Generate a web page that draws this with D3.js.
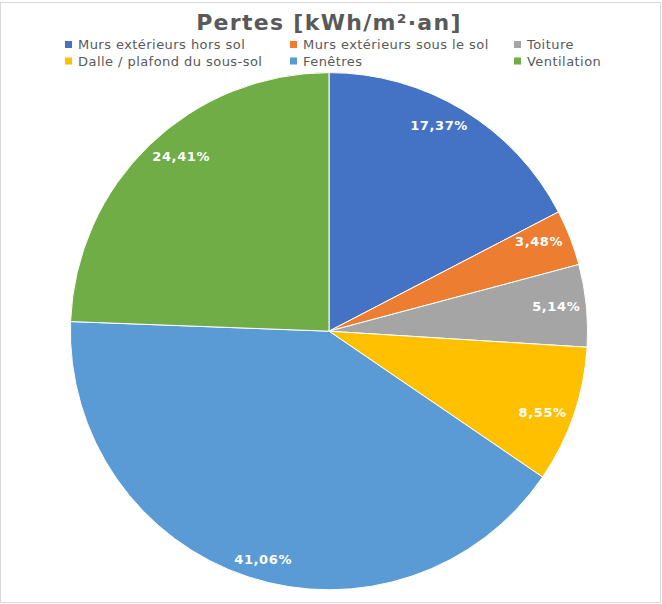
<!DOCTYPE html>
<html><head><meta charset="utf-8">
<script src="https://cdn.jsdelivr.net/npm/d3@7"></script>
<style>html,body{margin:0;padding:0;background:#fff;}svg{display:block;font-family:"DejaVu Sans",sans-serif;}</style>
</head><body>
<svg id="chart" width="662" height="604"></svg>
<script>
const title = "Pertes [kWh/m²·an]";
const categories = ["Murs extérieurs hors sol","Murs extérieurs sous le sol","Toiture","Dalle / plafond du sous-sol","Fenêtres","Ventilation"];
const values = [17.37, 3.48, 5.14, 8.55, 41.06, 24.41];
const colors = ["#4472C4","#ED7D31","#A5A5A5","#FFC000","#5B9BD5","#70AD47"];

const svg = d3.select("#chart");
svg.append("rect").attr("x",0.5).attr("y",2.5).attr("width",660).attr("height",600)
  .attr("fill","#fff").attr("stroke","#d9d9d9").attr("stroke-width",1);

svg.append("text").attr("x",329).attr("y",30).attr("text-anchor","middle")
  .attr("font-size",22).attr("font-weight","bold").attr("letter-spacing",1.3)
  .attr("fill","#595959").text(title);

// legend
const legCols = [65, 290, 514];
const legRows = [49, 65.5];
const leg = svg.append("g");
categories.forEach((c,i)=>{
  const x = legCols[i%3], y = legRows[Math.floor(i/3)];
  leg.append("rect").attr("x",x).attr("y",y-8).attr("width",7).attr("height",7).attr("fill",colors[i]);
  leg.append("text").attr("x",x+13).attr("y",y).attr("font-size",13)
    .attr("letter-spacing",0.45).attr("fill","#595959").text(c);
});

const cx = 329, cy = 331.2, r = 258.6;
const pie = d3.pie().sort(null).value(d=>d);
const arcs = pie(values);
const arc = d3.arc().innerRadius(0).outerRadius(r);
const g = svg.append("g").attr("transform",`translate(${cx},${cy})`);
g.selectAll("path").data(arcs).join("path")
  .attr("d",arc).attr("fill",(d,i)=>colors[i]).attr("stroke","#fff").attr("stroke-width",1);

const fmt = v => v.toFixed(2).replace(".",",") + "%";
const lbl = g.append("g");
const Rmax = r - 5.6, Dmax = r - 6.5;
arcs.forEach((d,i)=>{
  const t = lbl.append("text").attr("font-size",13).attr("font-weight","bold")
    .attr("letter-spacing",0.6).attr("fill","#fff").attr("text-anchor","middle").text(fmt(values[i]));
  const bb = t.node().getBBox();
  const hw = bb.width/2, hh = 6;
  const a = (d.startAngle+d.endAngle)/2;
  const s = Math.sin(a), c = Math.cos(a);
  let D = Dmax, x, y;
  for (; D > 0; D -= 0.25) {
    x = D*s - hw*s; y = -D*c;
    const fx = Math.abs(x) + hw, fy = Math.abs(y) + hh;
    if (Math.hypot(fx, fy) <= Rmax) break;
  }
  t.attr("x",x + 0.3).attr("y",y+4.7);
});
</script>
</body></html>
